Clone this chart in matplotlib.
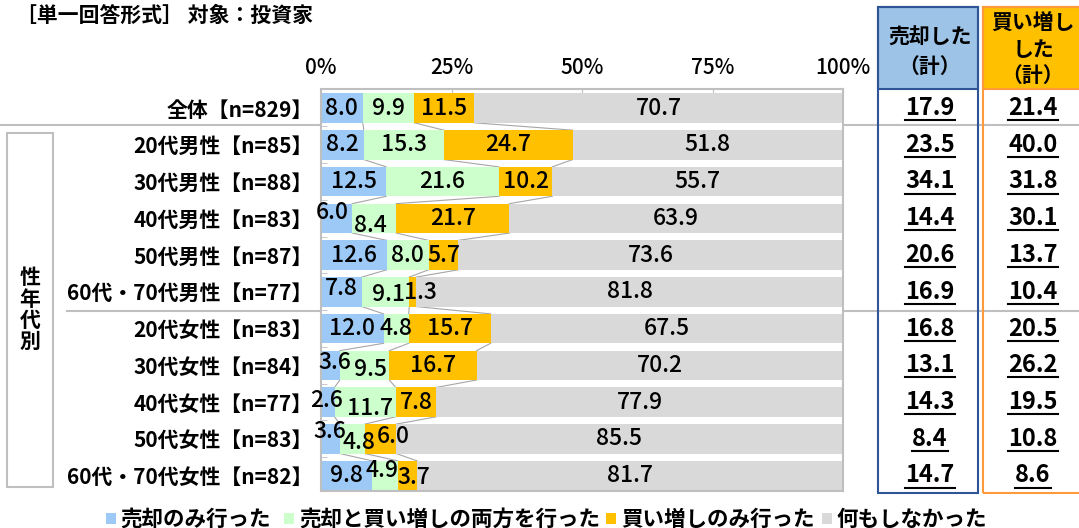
import numpy as np
import matplotlib
matplotlib.use('Agg')
import matplotlib.pyplot as plt
from matplotlib.patches import Rectangle
from matplotlib.lines import Line2D

plt.rcParams['font.family'] = ['Noto Sans CJK JP', 'DejaVu Sans']

# data
title = '［単一回答形式］ 対象：投資家'
categories = ['全体【n=829】',
              '20代男性【n=85】', '30代男性【n=88】', '40代男性【n=83】',
              '50代男性【n=87】', '60代・70代男性【n=77】',
              '20代女性【n=83】', '30代女性【n=84】', '40代女性【n=77】',
              '50代女性【n=83】', '60代・70代女性【n=82】']
series_names = ['売却のみ行った', '売却と買い増しの両方を行った',
                '買い増しのみ行った', '何もしなかった']
sold_only = [8.0, 8.2, 12.5, 6.0, 12.6, 7.8, 12.0, 3.6, 2.6, 3.6, 9.8]
both = [9.9, 15.3, 21.6, 8.4, 8.0, 9.1, 4.8, 9.5, 11.7, 4.8, 4.9]
bought_only = [11.5, 24.7, 10.2, 21.7, 5.7, 1.3, 15.7, 16.7, 7.8, 6.0, 3.7]
nothing = [70.7, 51.8, 55.7, 63.9, 73.6, 81.8, 67.5, 70.2, 77.9, 85.5, 81.7]
sold_total = [17.9, 23.5, 34.1, 14.4, 20.6, 16.9, 16.8, 13.1, 14.3, 8.4, 14.7]
bought_total = [21.4, 40.0, 31.8, 30.1, 13.7, 10.4, 20.5, 26.2, 19.5, 10.8, 8.6]
xticks = [0, 25, 50, 75, 100]
xticklabels = ['0%', '25%', '50%', '75%', '100%']
group_label = '性年代別'
sold_header = ['売却した', '（計）']
bought_header = ['買い増し', 'した', '（計）']

colors = ['#9DC9F7', '#CCFFCC', '#FFC000', '#D9D9D9']

# manual label nudges (row, segment) -> (dx, dy) in pixels, like the excel sheet
nudge = {(3, 0): (-4, -6), (3, 1): (-4, 7),
         (5, 0): (0, -3), (5, 1): (3, 3), (5, 2): (8, 1),
         (7, 0): (4, -3), (7, 1): (6, 4),
         (8, 0): (-1, -2), (8, 1): (5, 6),
         (9, 0): (-1, -7), (9, 1): (7, 4), (9, 2): (13, -2),
         (10, 1): (-3, -5), (10, 2): (6, 2)}

W, H = 1079, 528
fig = plt.figure(figsize=(W / 100, H / 100), dpi=100)

def fx(px):
    return px / W

def fy(py):
    return 1 - py / H

ax = fig.add_axes([fx(321), fy(491), (843 - 321) / W, (491 - 89) / H])

vals = np.array([sold_only, both, bought_only, nothing])
n = vals.shape[1]
y = np.arange(n)
h = 0.8
left = np.zeros(n)
cum = []
for k in range(4):
    ax.barh(y, vals[k], left=left, height=h, color=colors[k], zorder=2)
    for i in range(n):
        dx, dy = nudge.get((i, k), (0, 0))
        ax.annotate(f'{vals[k][i]:.1f}', (left[i] + vals[k][i] / 2, i),
                    xytext=(dx * 0.72, -dy * 0.72), textcoords='offset points',
                    ha='center', va='center', fontsize=16.5, fontweight='medium',
                    zorder=5)
    left = left + vals[k]
    cum.append(left.copy())

# series lines between bars
for i in range(n - 1):
    for k in range(3):
        ax.plot([cum[k][i], cum[k][i + 1]], [i + h / 2, i + 1 - h / 2],
                color='#A6A6A6', lw=0.8, zorder=1)

ax.set_xlim(0, 100)
ax.set_ylim(10.42, -0.52)
ax.xaxis.tick_top()
ax.set_xticks(xticks)
ax.set_xticklabels(xticklabels, fontsize=15, fontweight='medium')
ax.tick_params(axis='x', direction='in', length=4, color='#BFBFBF', pad=7)
ax.set_yticks(y)
ax.set_yticklabels(categories, fontsize=15, fontweight='bold')
ax.set_yticks(np.arange(n - 1) + 0.5, minor=True)
ax.tick_params(axis='y', which='major', length=0, pad=6)
ax.tick_params(axis='y', which='minor', direction='in', length=4, color='#BFBFBF')
for s in ax.spines.values():
    s.set_color('#BFBFBF')
    s.set_linewidth(1.5)

fig.text(fx(16), fy(15), title, fontsize=15, fontweight='bold', va='center')

# separators behind everything
fig.add_artist(Line2D([0, 1], [fy(125), fy(125)], color='#BFBFBF', lw=1.5, zorder=-1))
fig.add_artist(Line2D([fx(67), 1], [fy(311), fy(311)], color='#BFBFBF', lw=1.5, zorder=-1))

# group box on the left
fig.add_artist(Rectangle((fx(7), fy(487)), fx(53) - fx(7), fy(133) - fy(487),
                         fill=False, ec='#BFBFBF', lw=1.5))
for j, ch in enumerate(group_label):
    fig.text(fx(30), fy(278 + 21 * j), ch, fontsize=15, fontweight='bold',
             ha='center', va='center')

# right side total columns
def total_column(x0, x1, edge, head_color, head_lines, head_ys, totals):
    fig.add_artist(Rectangle((fx(x0), fy(493)), fx(x1) - fx(x0), fy(7) - fy(493),
                             fill=False, ec=edge, lw=1.5, zorder=3))
    fig.add_artist(Rectangle((fx(x0), fy(89)), fx(x1) - fx(x0), fy(7) - fy(89),
                             fc=head_color, ec=edge, lw=1.5, zorder=2))
    xc = (x0 + min(x1, W)) / 2 + 2
    for t, yy in zip(head_lines, head_ys):
        fig.text(fx(xc), fy(yy), t, fontsize=15, fontweight='bold',
                 ha='center', va='center', zorder=4)
    texts = []
    for i, v in enumerate(totals):
        rc = 108 + 36.75 * i
        texts.append((fig.text(fx(xc), fy(rc), f'{v:.1f}', fontsize=17,
                               fontweight='bold', ha='center', va='center'), rc))
    return texts

tx = total_column(878, 978, '#2F5597', '#9DC3E6', sold_header, [37, 66], sold_total)
tx += total_column(983, 1082, '#FF9A3C', '#FFC000', bought_header, [23, 49, 75], bought_total)

# legend
leg_x = [(106, 120), (284, 299), (606, 621), (822, 836)]
for (sx, tx0), name, c in zip(leg_x, series_names, colors):
    fig.add_artist(Rectangle((fx(sx), fy(524)), fx(10), fy(513) - fy(524),
                             fc=c, ec='none'))
    fig.text(fx(tx0), fy(519), name, fontsize=15.5, fontweight='bold', va='center')

# underline the totals
fig.canvas.draw()
r = fig.canvas.get_renderer()
for t, rc in tx:
    bb = t.get_window_extent(r)
    yl = fy(rc + 12)
    fig.add_artist(Line2D([bb.x0 / W, bb.x1 / W], [yl, yl], color='black', lw=1.5))

fig.savefig('out.png', dpi=100)
